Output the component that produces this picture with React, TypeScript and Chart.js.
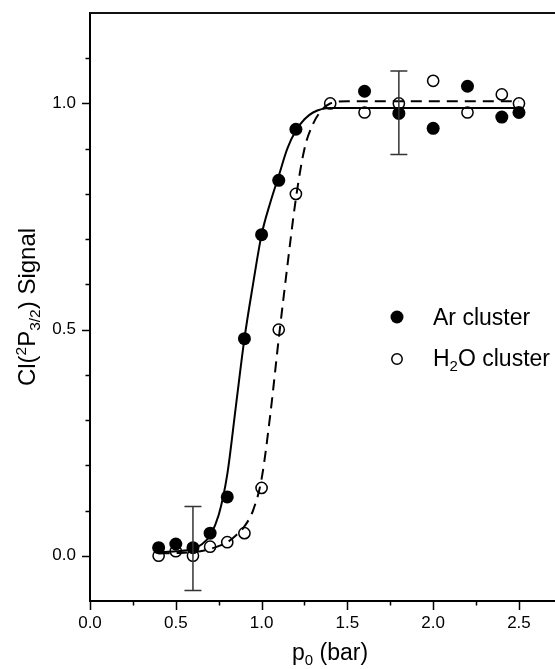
import React, { useEffect, useRef } from "react";
import { Chart, registerables } from "chart.js";

Chart.register(...registerables);

// ---- data ----
const arX = [0.4, 0.5, 0.6, 0.7, 0.8, 0.9, 1.0, 1.1, 1.2, 1.6, 1.8, 2.0, 2.2, 2.4, 2.5];
const arY = [0.018, 0.026, 0.018, 0.05, 0.13, 0.48, 0.71, 0.83, 0.943, 1.027, 0.978, 0.945, 1.038, 0.97, 0.98];

const h2oX = [0.4, 0.5, 0.6, 0.7, 0.8, 0.9, 1.0, 1.1, 1.2, 1.4, 1.6, 1.8, 2.0, 2.2, 2.4, 2.5];
const h2oY = [0.0, 0.01, 0.0, 0.02, 0.03, 0.05, 0.15, 0.5, 0.8, 1.0, 0.98, 1.0, 1.05, 0.98, 1.02, 1.0];

const arFitX = [0.4, 0.5, 0.6, 0.65, 0.7, 0.75, 0.8, 0.85, 0.9, 0.95, 1.0, 1.05, 1.1, 1.15, 1.2, 1.25, 1.3, 1.4, 1.6, 2.0, 2.5];
const arFitY = [0.008, 0.01, 0.015, 0.025, 0.045, 0.09, 0.18, 0.33, 0.48, 0.6, 0.71, 0.78, 0.84, 0.9, 0.94, 0.965, 0.98, 0.99, 0.99, 0.99, 0.99];

const h2oFitX = [0.4, 0.5, 0.6, 0.7, 0.8, 0.85, 0.9, 0.95, 1.0, 1.05, 1.1, 1.15, 1.2, 1.25, 1.3, 1.35, 1.4, 1.5, 2.0, 2.5];
const h2oFitY = [0.005, 0.006, 0.008, 0.015, 0.03, 0.045, 0.065, 0.1, 0.17, 0.31, 0.48, 0.64, 0.79, 0.9, 0.955, 0.985, 1.0, 1.005, 1.005, 1.005];

const errX = [0.6, 1.8];
const errLow = [-0.077, 0.887];
const errHigh = [0.109, 1.072];

const xMajor = [0.0, 0.5, 1.0, 1.5, 2.0, 2.5];
const xMinor = [0.25, 0.75, 1.25, 1.75, 2.25];
const yMajor = [0.0, 0.5, 1.0];
const yMinor = [0.1, 0.2, 0.3, 0.4, 0.6, 0.7, 0.8, 0.9, 1.1];

const legendLabels = ["Ar cluster", "H2O cluster"];

const FONT = "'Liberation Sans', Arial, Helvetica, sans-serif";

type Seg = { t: string; size: number; dy: number };

function drawSegs(ctx: CanvasRenderingContext2D, segs: Seg[], x: number, y: number, align: "left" | "center") {
  ctx.textAlign = "left";
  ctx.textBaseline = "alphabetic";
  let total = 0;
  for (const s of segs) {
    ctx.font = `${s.size}px ${FONT}`;
    total += ctx.measureText(s.t).width;
  }
  let cx = align === "center" ? x - total / 2 : x;
  for (const s of segs) {
    ctx.font = `${s.size}px ${FONT}`;
    ctx.fillText(s.t, cx, y + s.dy);
    cx += ctx.measureText(s.t).width;
  }
}

const decorPlugin = {
  id: "decor",
  afterDatasetsDraw(chart: any) {
    const { ctx, scales } = chart;
    const xs = scales.x;
    const ys = scales.y;
    ctx.save();
    ctx.strokeStyle = "#333";
    ctx.lineWidth = 1.5;
    for (let i = 0; i < errX.length; i++) {
      const px = xs.getPixelForValue(errX[i]);
      const p1 = ys.getPixelForValue(errLow[i]);
      const p2 = ys.getPixelForValue(errHigh[i]);
      ctx.beginPath();
      ctx.moveTo(px, p1);
      ctx.lineTo(px, p2);
      ctx.moveTo(px - 8.5, p1);
      ctx.lineTo(px + 8.5, p1);
      ctx.moveTo(px - 8.5, p2);
      ctx.lineTo(px + 8.5, p2);
      ctx.stroke();
    }
    ctx.restore();
  },
  afterDraw(chart: any) {
    const { ctx, chartArea, scales } = chart;
    const xs = scales.x;
    const ys = scales.y;
    ctx.save();
    // top frame line
    ctx.strokeStyle = "#111";
    ctx.lineWidth = 2;
    ctx.beginPath();
    ctx.moveTo(chartArea.left, chartArea.top);
    ctx.lineTo(chartArea.right, chartArea.top);
    ctx.stroke();

    // tick marks
    ctx.strokeStyle = "#000";
    ctx.lineWidth = 1.5;
    ctx.beginPath();
    for (const v of xMajor) {
      const px = Math.round(xs.getPixelForValue(v)) + 0.5;
      ctx.moveTo(px, chartArea.bottom);
      ctx.lineTo(px, chartArea.bottom + 9);
    }
    for (const v of xMinor) {
      const px = Math.round(xs.getPixelForValue(v)) + 0.5;
      ctx.moveTo(px, chartArea.bottom);
      ctx.lineTo(px, chartArea.bottom + 4.5);
    }
    for (const v of yMajor) {
      const py = Math.round(ys.getPixelForValue(v)) + 0.5;
      ctx.moveTo(chartArea.left, py);
      ctx.lineTo(chartArea.left - 8, py);
    }
    for (const v of yMinor) {
      const py = Math.round(ys.getPixelForValue(v)) + 0.5;
      ctx.moveTo(chartArea.left, py);
      ctx.lineTo(chartArea.left - 4.5, py);
    }
    ctx.stroke();

    ctx.fillStyle = "#000";
    // x title
    drawSegs(
      ctx,
      [
        { t: "p", size: 23, dy: 0 },
        { t: "0", size: 15, dy: 5 },
        { t: " (bar)", size: 23, dy: 0 },
      ],
      330,
      660,
      "center"
    );

    // y title
    ctx.save();
    ctx.translate(35, (chartArea.top + chartArea.bottom) / 2);
    ctx.rotate(-Math.PI / 2);
    drawSegs(
      ctx,
      [
        { t: "Cl(", size: 24, dy: 0 },
        { t: "2", size: 15.5, dy: -9.5 },
        { t: "P", size: 24, dy: 0 },
        { t: "3/2", size: 15.5, dy: 5 },
        { t: ") Signal", size: 24, dy: 0 },
      ],
      0,
      0,
      "center"
    );
    ctx.restore();

    // legend
    ctx.beginPath();
    ctx.arc(397, 317, 6.5, 0, Math.PI * 2);
    ctx.fill();
    ctx.beginPath();
    ctx.lineWidth = 1.5;
    ctx.arc(397, 359, 5.2, 0, Math.PI * 2);
    ctx.stroke();
    drawSegs(ctx, [{ t: legendLabels[0], size: 23, dy: 0 }], 433, 325, "left");
    drawSegs(
      ctx,
      [
        { t: "H", size: 23, dy: 0 },
        { t: "2", size: 15, dy: 5 },
        { t: "O cluster", size: 23, dy: 0 },
      ],
      433,
      366,
      "left"
    );
    ctx.restore();
  },
};

export default function App() {
  const ref = useRef<HTMLCanvasElement | null>(null);
  useEffect(() => {
    if (!ref.current) return;
    const toPts = (xa: number[], ya: number[]) => xa.map((x, i) => ({ x, y: ya[i] }));
    const chart = new Chart(ref.current, {
      type: "scatter",
      data: {
        datasets: [
          {
            label: legendLabels[0],
            data: toPts(arX, arY),
            pointRadius: 6.5,
            pointBackgroundColor: "#000",
            pointBorderWidth: 0,
            showLine: false,
          },
          {
            label: legendLabels[1],
            data: toPts(h2oX, h2oY),
            pointRadius: 5.6,
            pointBackgroundColor: "rgba(0,0,0,0)",
            pointBorderColor: "#000",
            pointBorderWidth: 1.5,
            showLine: false,
          },
          {
            label: "Ar fit",
            data: toPts(arFitX, arFitY),
            showLine: true,
            borderColor: "#000",
            borderWidth: 2,
            pointRadius: 0,
            cubicInterpolationMode: "monotone",
          },
          {
            label: "H2O fit",
            data: toPts(h2oFitX, h2oFitY),
            showLine: true,
            borderColor: "#000",
            borderWidth: 2,
            borderDash: [11, 7],
            pointRadius: 0,
            cubicInterpolationMode: "monotone",
          },
        ],
      },
      options: {
        animation: false,
        responsive: false,
        layout: { autoPadding: false, padding: { top: 13, left: 0, right: 0, bottom: 0 } },
        plugins: { legend: { display: false }, tooltip: { enabled: false } },
        scales: {
          x: {
            type: "linear",
            min: 0,
            max: 2.71,
            grid: { display: false, drawTicks: false },
            border: { display: true, color: "#000", width: 2 },
            ticks: {
              padding: 12,
              color: "#000",
              font: { family: FONT, size: 17 },
              callback: (v: any) => Number(v).toFixed(1),
            },
            afterBuildTicks: (s: any) => {
              s.ticks = xMajor.map((v) => ({ value: v }));
            },
            afterFit: (s: any) => {
              s.height = 68;
              s.paddingLeft = 0;
              s.paddingRight = 0;
            },
          },
          y: {
            type: "linear",
            min: -0.1,
            max: 1.2,
            grid: { display: false, drawTicks: false },
            border: { display: true, color: "#000", width: 2 },
            ticks: {
              padding: 14,
              color: "#000",
              font: { family: FONT, size: 17 },
              callback: (v: any) => Number(v).toFixed(1),
            },
            afterBuildTicks: (s: any) => {
              s.ticks = yMajor.map((v) => ({ value: v }));
            },
            afterFit: (s: any) => {
              s.width = 90;
              s.paddingTop = 0;
              s.paddingBottom = 0;
            },
          },
        },
      },
      plugins: [decorPlugin],
    });
    return () => chart.destroy();
  }, []);
  return (
    <div style={{ position: "fixed", left: 0, top: 0, width: 555, height: 669, background: "#fff" }}>
      <canvas ref={ref} width={555} height={669} />
    </div>
  );
}
